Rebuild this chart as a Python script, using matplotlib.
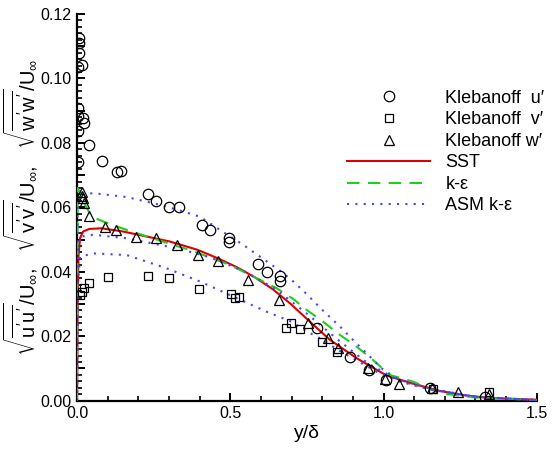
import matplotlib
matplotlib.use("Agg")
import matplotlib.pyplot as plt
from matplotlib.ticker import MultipleLocator, FuncFormatter

plt.rcParams['font.family'] = ['Liberation Sans', 'DejaVu Sans']
plt.rcParams['mathtext.fontset'] = 'custom'
plt.rcParams['mathtext.rm'] = 'Liberation Sans'
plt.rcParams['mathtext.it'] = 'Liberation Sans'
plt.rcParams['mathtext.bf'] = 'Liberation Sans:bold'

# Klebanoff data
u_x = [0.0075, 0.0065, 0.0055, 0.015, 0.002, 0.002, 0.002, 0.0205, 0.023, 0.002, 0.002,
       0.039, 0.0815, 0.131, 0.144, 0.23, 0.258, 0.30, 0.333, 0.407, 0.434, 0.497, 0.497,
       0.589, 0.621, 0.662, 0.662, 0.784, 0.89, 0.953, 1.007, 1.153, 1.33]
u_y = [0.1125, 0.111, 0.1079, 0.1043, 0.1037, 0.0908, 0.0882, 0.0877, 0.0861, 0.0838, 0.074,
       0.0792, 0.0744, 0.071, 0.0714, 0.0642, 0.0621, 0.0602, 0.0601, 0.0546, 0.053, 0.0504, 0.0494,
       0.0424, 0.0399, 0.0387, 0.037, 0.0225, 0.0135, 0.0095, 0.0064, 0.004, 0.0012]

v_x = [0.010, 0.015, 0.022, 0.040, 0.102, 0.2325, 0.301, 0.399, 0.502, 0.515, 0.529,
       0.681, 0.698, 0.729, 0.798, 0.847, 1.162, 1.343]
v_y = [0.0328, 0.0337, 0.0349, 0.0365, 0.0385, 0.0388, 0.0382, 0.0346, 0.0331, 0.0318, 0.0322,
       0.0227, 0.0242, 0.0223, 0.0183, 0.015, 0.0036, 0.0026]

w_x = [0.017, 0.015, 0.021, 0.023, 0.040, 0.091, 0.126, 0.192, 0.257, 0.325, 0.394, 0.459,
       0.557, 0.659, 0.752, 0.819, 0.853, 0.948, 1.005, 1.051, 1.157, 1.243, 1.344]
w_y = [0.0649, 0.0635, 0.0629, 0.0613, 0.0574, 0.0539, 0.0530, 0.0509, 0.0504, 0.0484, 0.0452,
       0.0435, 0.0375, 0.0313, 0.0242, 0.0194, 0.0165, 0.0102, 0.0066, 0.0051, 0.0039, 0.0026, 0.0020]

# SST
sst_x = [0, 0.002, 0.005, 0.01, 0.02, 0.04, 0.08, 0.15, 0.2, 0.303, 0.394, 0.459, 0.52, 0.58,
         0.64, 0.695, 0.76, 0.825, 0.912, 1.01, 1.1, 1.184, 1.27, 1.35, 1.5]
sst_y = [0, 0.03, 0.045, 0.0505, 0.0525, 0.0533, 0.0535, 0.0525, 0.0515, 0.0494, 0.0468, 0.0442,
         0.0415, 0.0383, 0.0345, 0.0302, 0.0245, 0.0189, 0.0132, 0.0078, 0.0052, 0.003, 0.0016,
         0.0008, 0.0003]

# k-epsilon
ke_x = [0, 0.002, 0.01, 0.025, 0.048, 0.086, 0.162, 0.325, 0.368, 0.499, 0.597, 0.651, 0.705,
        0.749, 0.803, 0.858, 0.912, 0.966, 1.02, 1.097, 1.184, 1.3, 1.5]
ke_y = [0, 0.066, 0.0645, 0.061, 0.0571, 0.0556, 0.053, 0.048, 0.0468, 0.0421, 0.0375, 0.0349,
        0.0316, 0.0282, 0.0245, 0.0204, 0.0168, 0.0126, 0.008, 0.0059, 0.0023, 0.001, 0.0002]

# ASM k-epsilon (u', w', v')
asmu_x = [0, 0.002, 0.01, 0.053, 0.162, 0.271, 0.347, 0.401, 0.466, 0.54, 0.6, 0.66, 0.7, 0.75,
          0.8, 0.86, 0.9, 0.95, 1.0, 1.053, 1.15, 1.3, 1.5]
asmu_y = [0, 0.06, 0.064, 0.0644, 0.0632, 0.0608, 0.0587, 0.0571, 0.053, 0.0485, 0.0445, 0.0405,
          0.0375, 0.033, 0.0282, 0.0228, 0.0189, 0.0142, 0.0095, 0.0064, 0.0038, 0.0012, 0.0002]
asmw_x = [0, 0.002, 0.01, 0.053, 0.162, 0.325, 0.434, 0.55, 0.65, 0.75, 0.85, 0.95, 1.05,
          1.15, 1.3, 1.5]
asmw_y = [0, 0.045, 0.0509, 0.0515, 0.0504, 0.0473, 0.0445, 0.040, 0.0345, 0.027, 0.019, 0.0115,
          0.0063, 0.0036, 0.0012, 0.0002]
asmv_x = [0, 0.002, 0.01, 0.053, 0.162, 0.292, 0.401, 0.51, 0.619, 0.70, 0.75, 0.80, 0.85,
          0.89, 0.977, 1.05, 1.15, 1.3, 1.5]
asmv_y = [0, 0.035, 0.0447, 0.0457, 0.0452, 0.0411, 0.037, 0.0323, 0.0276, 0.0245, 0.0215,
          0.019, 0.0158, 0.0137, 0.009, 0.006, 0.0035, 0.0012, 0.0002]

fig = plt.figure(figsize=(5.58, 4.49), dpi=100)
ax = fig.add_axes([0.138, 0.1076, 0.824, 0.8612])

ax.plot(sst_x, sst_y, color='#dd0000', lw=1.5, label='SST', zorder=3)
ax.plot(ke_x, ke_y, color='#22cc22', lw=1.5, ls=(0, (6, 4)), label='k-ε', zorder=3)
ax.plot(asmu_x, asmu_y, color='#4444ff', lw=1.5, ls=(0, (1, 3)), label='ASM k-ε', zorder=3)
ax.plot(asmw_x, asmw_y, color='#4444ff', lw=1.5, ls=(0, (1, 3)), zorder=3)
ax.plot(asmv_x, asmv_y, color='#4444ff', lw=1.5, ls=(0, (1, 3)), zorder=3)

ax.plot(u_x, u_y, ls='none', marker='o', ms=7.5, mfc='none', mec='black', mew=0.9,
        label='Klebanoff  u′', zorder=4)
ax.plot(v_x, v_y, ls='none', marker='s', ms=5.8, mfc='none', mec='black', mew=0.9,
        label='Klebanoff  v′', zorder=4)
ax.plot(w_x, w_y, ls='none', marker='^', ms=6.5, mfc='none', mec='black', mew=0.9,
        label='Klebanoff w′', zorder=4)

ax.set_xlim(0, 1.5)
ax.set_ylim(0, 0.12)
ax.spines['top'].set_visible(False)
ax.spines['right'].set_visible(False)
ax.spines['left'].set_linewidth(1.6)
ax.spines['bottom'].set_linewidth(1.6)

ax.xaxis.set_major_locator(MultipleLocator(0.5))
ax.xaxis.set_minor_locator(MultipleLocator(0.1))
ax.yaxis.set_major_locator(MultipleLocator(0.01))
ax.yaxis.set_minor_locator(MultipleLocator(0.002))
ax.xaxis.set_major_formatter(FuncFormatter(lambda v, p: f"{v:.1f}"))
ax.yaxis.set_major_formatter(FuncFormatter(
    lambda v, p: f"{v:.2f}" if round(v * 100) % 2 == 0 else ""))
ax.tick_params(which='major', direction='in', length=6, width=1.4, labelsize=11.5, pad=4)
ax.tick_params(which='minor', direction='in', length=3.5, width=1.2)

ax.set_xlabel('y/δ', fontsize=14, labelpad=3)
ax.set_ylabel(r"$\sqrt{\overline{u'u'}}/U_\infty$,   $\sqrt{\overline{v'v'}}/U_\infty$,   "
              r"$\sqrt{\overline{w'w'}}/U_\infty$", fontsize=14.5)
ax.yaxis.set_label_coords(-0.082, 0.5)

h, l = ax.get_legend_handles_labels()
order = [3, 4, 5, 0, 1, 2]
leg = ax.legend([h[i] for i in order], [l[i] for i in order], loc='upper left',
                bbox_to_anchor=(0.622, 0.80), bbox_transform=fig.transFigure,
                frameon=False, fontsize=13, handlelength=4.6, handletextpad=0.85,
                labelspacing=0.25, borderpad=0, borderaxespad=0, numpoints=1)

fig.savefig('out.png', dpi=100)
